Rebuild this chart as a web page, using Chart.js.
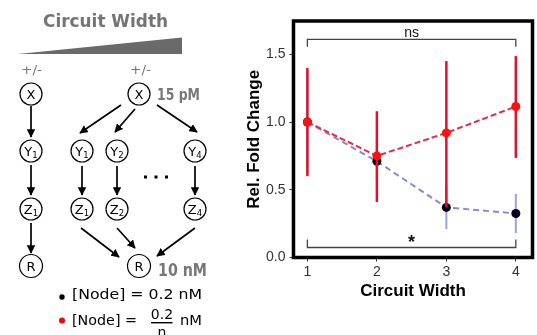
<!DOCTYPE html>
<html>
<head>
<meta charset="utf-8">
<script src="https://cdn.jsdelivr.net/npm/chart.js@4.4.0/dist/chart.umd.min.js"></script>
<style>
  html, body { margin: 0; padding: 0; background: #fff; }
  #wrap { position: relative; width: 537px; height: 335px; overflow: hidden; }
  #chart { position: absolute; left: 0; top: 0; }
  #diagram { position: absolute; left: 0; top: 0; }
  #diagram text { font-family: "DejaVu Sans", sans-serif; }
</style>
</head>
<body>
<div id="wrap">
  <canvas id="chart" width="537" height="335"></canvas>
  <svg id="diagram" width="240" height="335" xmlns="http://www.w3.org/2000/svg">
    <defs>
      <marker id="ah" viewBox="0 0 10 10" refX="9" refY="5" markerWidth="5" markerHeight="5" orient="auto">
        <path d="M0,0 L10,5 L0,10 z" fill="#000"/>
      </marker>
    </defs>

    <!-- header -->
    <text x="43" y="27" font-size="17" font-weight="bold" fill="#747474" textLength="125" lengthAdjust="spacingAndGlyphs">Circuit Width</text>
    <polygon points="18,54 182,37.5 182,54" fill="#6a6a6a"/>
    <text x="21" y="74" font-size="12" fill="#777" textLength="21" lengthAdjust="spacingAndGlyphs">+/-</text>
    <text x="130" y="74" font-size="12" fill="#777" textLength="21" lengthAdjust="spacingAndGlyphs">+/-</text>

    <!-- concentrations -->
    <text x="157" y="100" font-size="16" font-weight="bold" fill="#777" textLength="43" lengthAdjust="spacingAndGlyphs">15 pM</text>
    <text x="158" y="276" font-size="17" font-weight="bold" fill="#777" textLength="49" lengthAdjust="spacingAndGlyphs">10 nM</text>

    <!-- arrows -->
    <g stroke="#000" stroke-width="1.7" marker-end="url(#ah)">
      <line x1="31" y1="106" x2="31" y2="137"/>
      <line x1="31" y1="165" x2="31" y2="195"/>
      <line x1="31" y1="223" x2="31" y2="253"/>
      <line x1="121" y1="105" x2="80" y2="133"/>
      <line x1="135" y1="109" x2="115" y2="132"/>
      <line x1="157" y1="105" x2="197" y2="132"/>
      <line x1="82" y1="166" x2="82" y2="195"/>
      <line x1="117" y1="166" x2="117" y2="195"/>
      <line x1="195" y1="166" x2="195" y2="195"/>
      <line x1="81" y1="228" x2="119" y2="257"/>
      <line x1="117" y1="228" x2="135" y2="248"/>
      <line x1="195" y1="228" x2="157" y2="256"/>
    </g>
    <g fill="#000">
      <rect x="144" y="175.5" width="3" height="3"/>
      <rect x="154.5" y="175.5" width="3" height="3"/>
      <rect x="165" y="175.5" width="3" height="3"/>
    </g>

    <!-- nodes -->
    <g fill="#fff" stroke="#000" stroke-width="1.2">
      <circle cx="31" cy="94" r="11"/>
      <circle cx="31" cy="151" r="11"/>
      <circle cx="31" cy="209" r="11"/>
      <circle cx="31" cy="266" r="11.5"/>
      <circle cx="139" cy="94" r="11"/>
      <circle cx="82" cy="151" r="11"/>
      <circle cx="117" cy="151" r="11"/>
      <circle cx="195" cy="151" r="11"/>
      <circle cx="82" cy="209" r="11"/>
      <circle cx="117" cy="209" r="11"/>
      <circle cx="195" cy="209" r="11"/>
      <circle cx="139" cy="266" r="11.5"/>
    </g>
    <g font-size="13" fill="#000" text-anchor="middle">
      <text x="31" y="99">X</text>
      <text x="139" y="99">X</text>
      <text x="31" y="156">Y<tspan font-size="8.5" dy="2">1</tspan></text>
      <text x="82" y="156">Y<tspan font-size="8.5" dy="2">1</tspan></text>
      <text x="117" y="156">Y<tspan font-size="8.5" dy="2">2</tspan></text>
      <text x="195" y="156">Y<tspan font-size="8.5" dy="2">4</tspan></text>
      <text x="31" y="214">Z<tspan font-size="8.5" dy="2">1</tspan></text>
      <text x="82" y="214">Z<tspan font-size="8.5" dy="2">1</tspan></text>
      <text x="117" y="214">Z<tspan font-size="8.5" dy="2">2</tspan></text>
      <text x="195" y="214">Z<tspan font-size="8.5" dy="2">4</tspan></text>
      <text x="31" y="271">R</text>
      <text x="139" y="271">R</text>
    </g>

    <!-- legend -->
    <circle cx="62" cy="297" r="2.7" fill="#000"/>
    <text x="72" y="299" font-size="14" fill="#000" textLength="130" lengthAdjust="spacingAndGlyphs">[Node] = 0.2 nM</text>
    <circle cx="62" cy="320.5" r="3" fill="#f00"/>
    <text x="72" y="325" font-size="14" fill="#000" textLength="65" lengthAdjust="spacingAndGlyphs">[Node] =</text>
    <text x="162" y="318.5" font-size="14" fill="#000" text-anchor="middle">0.2</text>
    <line x1="151" y1="322.7" x2="172.5" y2="322.7" stroke="#000" stroke-width="1.4"/>
    <text x="162" y="336.5" font-size="14" fill="#000" text-anchor="middle">n</text>
    <text x="180" y="325" font-size="14" fill="#000" textLength="22" lengthAdjust="spacingAndGlyphs">nM</text>
  </svg>
</div>
<script>
// circuit width (x) and relative fold change for the two conditions
const widths = [1, 2, 3, 4];
const blackMean = [1.0, 0.71, 0.37, 0.325];
const blackLow  = [0.62, 0.56, 0.21, 0.18];
const blackHigh = [1.38, 0.86, 0.53, 0.47];
const redMean = [1.0, 0.75, 0.92, 1.115];
const redLow  = [0.60, 0.41, 0.37, 0.735];
const redHigh = [1.40, 1.08, 1.45, 1.487];
const xTicks = [1, 2, 3, 4];
const yTicks = [0, 0.5, 1.0, 1.5];
const brackets = [
    { from: 1, to: 4, y: 1.61, tip: 1.555, label: 'ns', labelY: 1.66, bold: false },
    { from: 1, to: 4, y: 0.074, tip: 0.133, label: '*', labelY: 0.11, bold: true }
];

const FONT = "'Liberation Sans', Arial, sans-serif";

const errBars = [
    { low: redLow, high: redHigh, color: '#e0102e', width: 2.5 },
    { low: blackLow, high: blackHigh, color: 'rgba(128,128,210,0.75)', width: 2 }
];

// error bars go under each dataset's line + points
const errorBarPlugin = {
    id: 'errorBars',
    beforeDatasetDraw(chart, args) {
        const eb = errBars[args.index];
        if (!eb) return;
        const { ctx, scales: { x, y } } = chart;
        ctx.save();
        ctx.strokeStyle = eb.color;
        ctx.lineWidth = eb.width;
        widths.forEach((w, i) => {
            const px = x.getPixelForValue(w);
            ctx.beginPath();
            ctx.moveTo(px, y.getPixelForValue(eb.low[i]));
            ctx.lineTo(px, y.getPixelForValue(eb.high[i]));
            ctx.stroke();
        });
        ctx.restore();
    }
};

const framePlugin = {
    id: 'frame',
    afterDraw(chart) {
        const { ctx, chartArea: a, scales: { x, y } } = chart;
        ctx.save();
        // significance brackets
        ctx.strokeStyle = '#444';
        ctx.lineWidth = 1.3;
        ctx.fillStyle = '#111';
        ctx.textAlign = 'center';
        ctx.textBaseline = 'middle';
        brackets.forEach(b => {
            const x1 = x.getPixelForValue(b.from), x2 = x.getPixelForValue(b.to);
            const yy = y.getPixelForValue(b.y), yt = y.getPixelForValue(b.tip);
            ctx.beginPath();
            ctx.moveTo(x1, yt);
            ctx.lineTo(x1, yy);
            ctx.lineTo(x2, yy);
            ctx.lineTo(x2, yt);
            ctx.stroke();
            ctx.font = (b.bold ? 'bold 18px ' : '14px ') + FONT;
            ctx.fillText(b.label, (x1 + x2) / 2, y.getPixelForValue(b.labelY));
        });
        // panel border
        ctx.strokeStyle = '#000';
        ctx.lineWidth = 3.5;
        ctx.strokeRect(a.left, a.top, a.right - a.left, a.bottom - a.top);
        ctx.restore();
    }
};

new Chart(document.getElementById('chart'), {
    type: 'line',
    data: {
        datasets: [
            {
                data: widths.map((w, i) => ({ x: w, y: redMean[i] })),
                borderColor: '#e8284a',
                borderWidth: 2,
                borderDash: [6, 3],
                pointRadius: 4.5,
                pointBackgroundColor: '#ff1010',
                pointBorderColor: '#ff1010',
                pointBorderWidth: 0
            },
            {
                data: widths.map((w, i) => ({ x: w, y: blackMean[i] })),
                borderColor: '#8888d6',
                borderWidth: 2,
                borderDash: [6, 4],
                pointRadius: 4.5,
                pointBackgroundColor: '#02021a',
                pointBorderColor: '#02021a',
                pointBorderWidth: 0
            }
        ]
    },
    options: {
        responsive: false,
        animation: false,
        events: [],
        layout: { padding: { left: 240, top: 21, right: 1, bottom: 0 } },
        plugins: { legend: { display: false }, tooltip: { enabled: false } },
        elements: { line: { tension: 0 } },
        scales: {
            x: {
                type: 'linear',
                min: 0.8,
                max: 4.24,
                bounds: 'data',
                afterBuildTicks: s => { s.ticks = xTicks.map(v => ({ value: v })); },
                afterFit: s => { s.height = 77.5; s.paddingLeft = 0; s.paddingRight = 0; },
                grid: { drawOnChartArea: false, tickLength: 4, color: '#333', lineWidth: 1 },
                border: { display: false },
                ticks: { color: '#333', padding: 2, maxRotation: 0, font: { family: FONT, size: 14 }, callback: v => String(v) },
                title: {
                    display: true, text: 'Circuit Width', color: '#000',
                    font: { family: FONT, size: 17, weight: 'bold' },
                    padding: { top: 0, bottom: 33 }
                }
            },
            y: {
                min: 0,
                max: 1.746,
                bounds: 'data',
                afterBuildTicks: s => { s.ticks = yTicks.map(v => ({ value: v })); },
                afterFit: s => { s.width = 53.5; s.paddingTop = 0; s.paddingBottom = 0; },
                grid: { drawOnChartArea: false, tickLength: 4, color: '#333', lineWidth: 1 },
                border: { display: false },
                ticks: { color: '#333', padding: 4, font: { family: FONT, size: 14 }, callback: v => v.toFixed(1) },
                title: {
                    display: true, text: 'Rel. Fold Change', color: '#000',
                    font: { family: FONT, size: 17, weight: 'bold' },
                    padding: { top: 4.5, bottom: 0 }
                }
            }
        }
    },
    plugins: [errorBarPlugin, framePlugin]
});
</script>
</body>
</html>
